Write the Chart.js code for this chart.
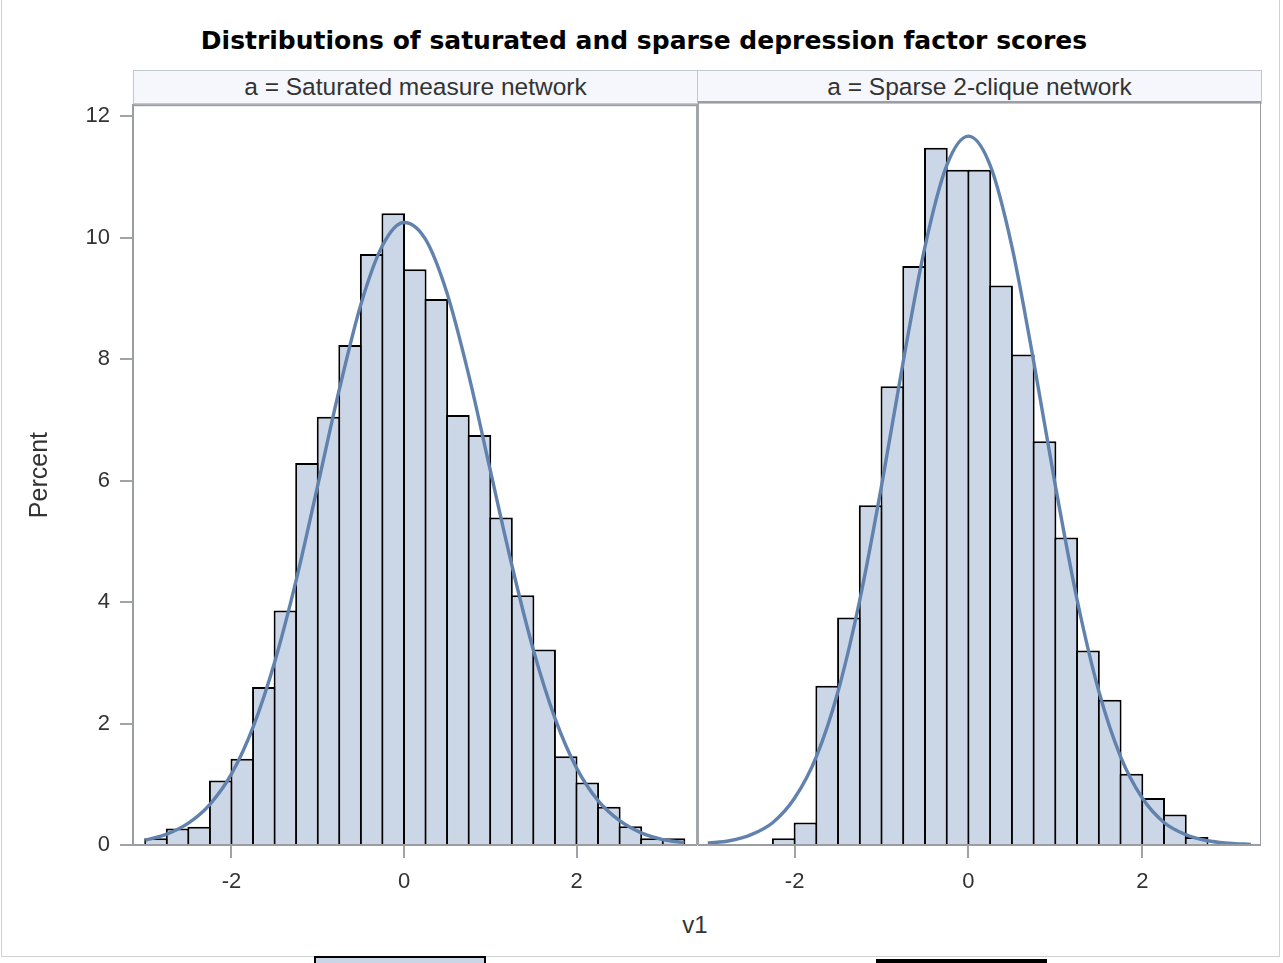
<!DOCTYPE html>
<html>
<head>
<meta charset="utf-8">
<script src="https://cdn.jsdelivr.net/npm/chart.js@4.4.1/dist/chart.umd.min.js"></script>
<style>
html,body{margin:0;padding:0;background:#fff;}
#wrap{position:relative;width:1283px;height:963px;overflow:hidden;background:#fff;font-family:"Liberation Sans",Arial,sans-serif;color:#333;}
#frame{position:absolute;left:1px;top:-2px;width:1279px;height:959px;border:1px solid #cfd1d3;box-sizing:border-box;}
#title{position:absolute;left:0;top:24px;width:1288px;text-align:center;font-family:"DejaVu Sans",sans-serif;font-weight:bold;font-size:25px;line-height:34px;color:#000;}
.hdr{position:absolute;top:70px;height:34px;box-sizing:border-box;border:1px solid #c3c8cf;background:#f5f7fc;text-align:center;font-size:24.5px;line-height:32px;color:#333;}
.cw{position:absolute;top:82px;}
#divider{position:absolute;left:696px;top:104px;width:3px;height:741px;background:#a2a6aa;}
#xlab{position:absolute;left:595px;width:200px;top:910px;text-align:center;font-size:24px;line-height:30px;color:#333;}
.lg{position:absolute;box-sizing:border-box;}
</style>
</head>
<body>
<div id="wrap">
  <div id="frame"></div>
  <div id="title">Distributions of saturated and sparse depression factor scores</div>
  <div class="hdr" style="left:133px;width:565px;">a = Saturated measure network</div>
  <div class="hdr" style="left:697px;width:565px;">a = Sparse 2-clique network</div>
  <div class="cw" style="left:0px;"><canvas id="c1" width="697" height="818" style="width:697px;height:818px;"></canvas></div>
  <div class="cw" style="left:698px;"><canvas id="c2" width="563" height="818" style="width:563px;height:818px;"></canvas></div>
  <div id="divider"></div>
  <div id="xlab">v1</div>
  <div class="lg" style="left:314px;top:956px;width:172px;height:12px;background:#cad5e5;border:2px solid #000;"></div>
  <div class="lg" style="left:876px;top:959px;width:171px;height:10px;background:#000;"></div>
</div>
<script>
// ---- data ----
const xTickValues = [-2, 0, 2];
const xTickLabels = ['-2', '0', '2'];
const yTickValues = [0, 2, 4, 6, 8, 10, 12];
const yTickLabels = ['0', '2', '4', '6', '8', '10', '12'];

// Saturated measure network: histogram bin midpoints (bin width 0.25) and percent
const satBinMid = [-2.875,-2.625,-2.375,-2.125,-1.875,-1.625,-1.375,-1.125,-0.875,-0.625,-0.375,-0.125,0.125,0.375,0.625,0.875,1.125,1.375,1.625,1.875,2.125,2.375,2.625,2.875,3.125];
const satPercent = [0.11,0.27,0.30,1.06,1.42,2.60,3.86,6.29,7.05,8.23,9.73,10.40,9.48,8.99,7.08,6.75,5.39,4.11,3.22,1.46,1.03,0.63,0.31,0.11,0.11];

// Sparse 2-clique network
const sparseBinMid = [-2.125,-1.875,-1.625,-1.375,-1.125,-0.875,-0.625,-0.375,-0.125,0.125,0.375,0.625,0.875,1.125,1.375,1.625,1.875,2.125,2.375,2.625];
const sparsePercent = [0.11,0.37,2.61,3.73,5.57,7.52,9.49,11.43,11.07,11.07,9.17,8.04,6.62,5.04,3.19,2.38,1.17,0.77,0.50,0.13];

// Fitted normal density curves
const curveX = [-3,-2.75,-2.5,-2.25,-2,-1.75,-1.5,-1.25,-1,-0.75,-0.5,-0.25,0,0.25,0.5,0.75,1,1.25,1.5,1.75,2,2.25,2.5,2.75,3,3.25];
const satCurve = [0.08,0.18,0.36,0.67,1.17,1.94,3.01,4.36,5.92,7.50,8.90,9.87,10.25,9.97,9.08,7.74,6.17,4.61,3.21,2.09,1.27,0.73,0.40,0.20,0.09,0.04];
const sparseCurve = [0.03,0.07,0.17,0.37,0.77,1.45,2.52,4.02,5.89,7.93,9.81,11.14,11.62,11.14,9.81,7.93,5.89,4.02,2.52,1.45,0.77,0.37,0.17,0.07,0.03,0.01];

// ---- styles ----
const BAR_FILL = '#cbd6e6';
const CURVE = '#6282ae';
const AXIS = '#a0a4a8';
const DIVIDER = '#9a9ea3';
const TEXT = '#333333';
const FONT = '"Liberation Sans", Arial, sans-serif';

Chart.defaults.font.family = FONT;
Chart.defaults.color = TEXT;

const framePlugin = {
  id: 'frame',
  afterDraw(chart) {
    const a = chart.chartArea, ctx = chart.ctx;
    ctx.save();
    ctx.strokeStyle = DIVIDER;
    ctx.lineWidth = 2;
    ctx.strokeRect(a.left, a.top, a.right - a.left, a.bottom - a.top);
    ctx.restore();
  }
};

function makeChart(id, mids, pct, curve, xmin, xmax, showY) {
  const bars = mids.map((m, i) => ({x: m, y: pct[i]}));
  const line = curveX.map((x, i) => ({x: x, y: curve[i]}));
  const yScale = {
    type: 'linear', min: 0, max: 12.18, display: showY,
    afterBuildTicks: (ax) => { ax.ticks = yTickValues.map(v => ({value: v})); },
    ticks: {font: {size: 22}, color: TEXT, padding: 10,
            callback: (v) => yTickLabels[yTickValues.indexOf(v)]},
    grid: {drawOnChartArea: false, drawTicks: true, tickLength: 13, color: AXIS, lineWidth: 2},
    border: {display: true, color: AXIS, width: 2},
    title: {display: true, text: 'Percent', font: {size: 25}, color: TEXT, padding: {top: 25, bottom: 0}}
  };
  if (showY) yScale.afterFit = (ax) => { ax.width = 133; };
  return new Chart(document.getElementById(id), {
    data: {
      datasets: [
        {type: 'line', data: line, borderColor: CURVE, borderWidth: 3.4, pointRadius: 0,
         cubicInterpolationMode: 'monotone', fill: false, order: 0},
        {type: 'bar', data: bars, backgroundColor: BAR_FILL, borderColor: '#000', borderWidth: 2,
         barPercentage: 1.093, categoryPercentage: 1.0, order: 1}
      ]
    },
    options: {
      responsive: false,
      animation: false,
      events: [],
      layout: {padding: {top: 20, left: 0, right: 0, bottom: 0}},
      plugins: {legend: {display: false}, tooltip: {enabled: false}, title: {display: false}},
      scales: {
        x: {
          type: 'linear', min: xmin, max: xmax, offset: false,
          afterBuildTicks: (ax) => { ax.ticks = xTickValues.map(v => ({value: v})); },
          afterFit: (ax) => { ax.height = 55; },
          ticks: {font: {size: 22}, color: TEXT, padding: 11, maxRotation: 0,
                  callback: (v) => xTickLabels[xTickValues.indexOf(v)]},
          grid: {offset: false, drawOnChartArea: false, drawTicks: true, tickLength: 13, color: AXIS, lineWidth: 2},
          border: {display: true, color: AXIS, width: 2}
        },
        y: yScale
      }
    },
    plugins: [framePlugin]
  });
}

makeChart('c1', satBinMid, satPercent, satCurve, -3.142, 3.397, true);
makeChart('c2', sparseBinMid, sparsePercent, sparseCurve, -3.112, 3.366, false);
</script>
</body>
</html>
